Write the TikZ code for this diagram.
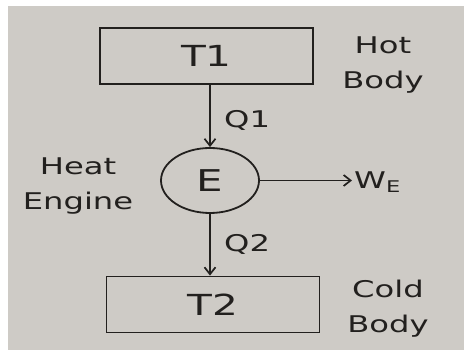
\documentclass[tikz,border=0pt]{standalone}
\usepackage{fontspec}
\usetikzlibrary{shapes.geometric,arrows.meta}
\newfontfamily\handfont[FakeStretch=1.4]{DejaVu Sans}
\definecolor{paper}{RGB}{206,203,198}
\definecolor{ink}{RGB}{34,32,30}
\tikzset{
  box/.style={draw=ink, line width=1.8pt, minimum width=213pt, minimum height=56pt, font=\handfont\fontsize{29}{30}\selectfont},
  engine/.style={draw=ink, ellipse, line width=1.8pt, minimum width=98pt, minimum height=65pt, inner sep=0pt, font=\handfont\fontsize{30}{30}\selectfont},
  lbl/.style={text=ink, font=\handfont\fontsize{23}{35}\selectfont, align=center},
  flow/.style={-{Straight Barb[length=7pt,width=11pt]}, draw=ink, line width=1.7pt}
}
\begin{document}
\begin{tikzpicture}[x=1pt, y=-1pt, text=ink]
            \useasboundingbox (0,0) rectangle (464,352);
            \fill[white] (0,0) rectangle (464,352);
            \fill[paper] (8,6) rectangle (464,350);
            \node[box] (T1) at (206.5,56) {T1};
            \node[engine] (E) at (210,180.5) {E};
            \node[box] (T2) at (213,304.5) {T2};
            \node[lbl] (hot) at (383,65) {Hot\\Body};
            \node[lbl] (engname) at (78,186) {Heat\\Engine};
            \node[lbl] (cold) at (388,309) {Cold\\Body};
            \node[lbl, anchor=west, inner sep=2pt] (W) at (352,182) {W\textsubscript{E}};
            \draw[flow] (E.north |- T1.south) to node[lbl, right, xshift=10pt, yshift=-4pt] (Q1) {Q1} (E.north);
            \draw[flow] (E.south) to node[lbl, right, xshift=10pt] (Q2) {Q2} (E.south |- T2.north);
            \draw[flow] (E.east) to (E.east -| W.west);
        \end{tikzpicture}
\end{document}
